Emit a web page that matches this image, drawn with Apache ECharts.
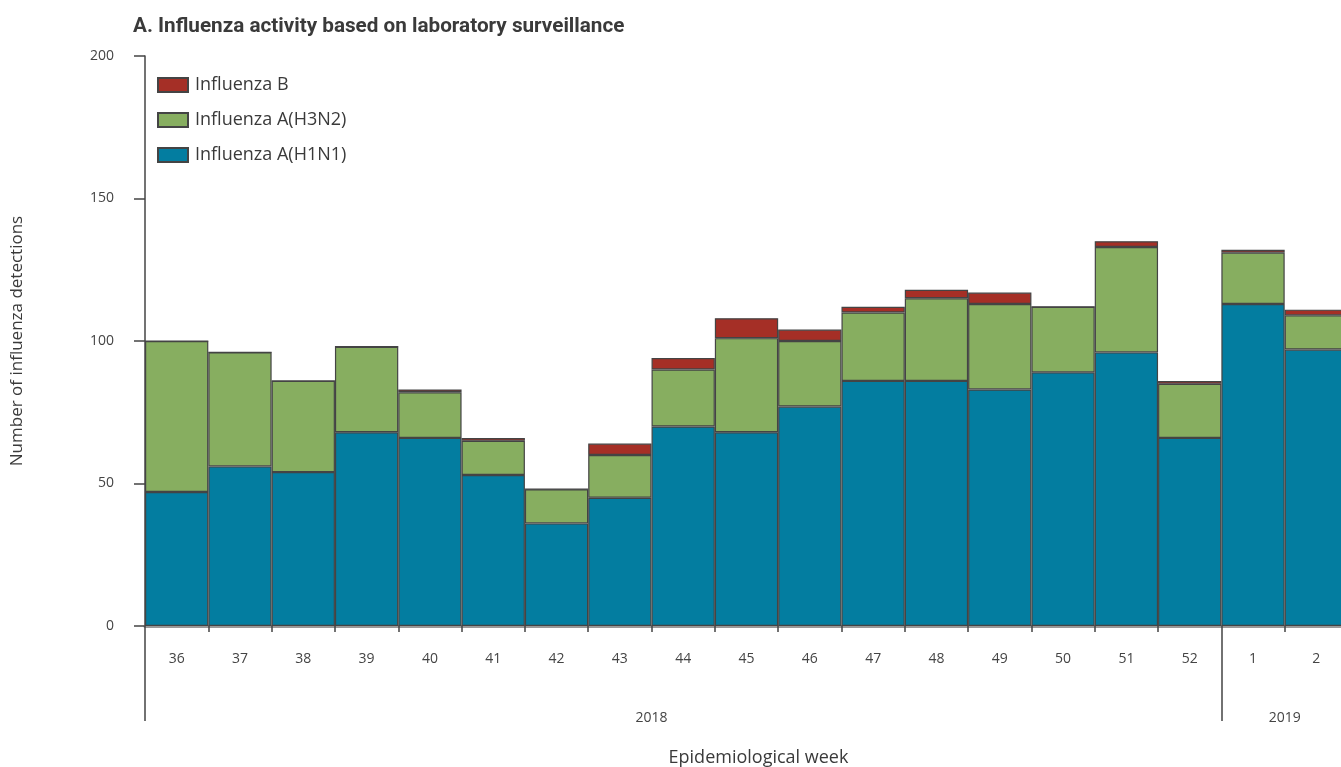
<!DOCTYPE html>
<html>
<head>
<meta charset="utf-8">
<script src="https://cdn.jsdelivr.net/npm/echarts@6/dist/echarts.min.js"></script>
<style>
html,body{margin:0;padding:0;background:#fff;}
#chart{width:1341px;height:767px;}
</style>
</head>
<body>
<div id="chart"></div>
<script>
var weeks = ['36','37','38','39','40','41','42','43','44','45','46','47','48','49','50','51','52','1','2'];
var h1n1 = [47,56,54,68,66,53,36,45,70,68,77,86,86,83,89,96,66,113,97];
var h3n2 = [53,40,32,30,16,12,12,15,20,33,23,24,29,30,23,37,19,18,12];
var fluB = [0,0,0,0,1,1,0,4,4,7,4,2,3,4,0,2,1,1,2];
var yearLabels = ['2018','2019'];
var yearLabelPos = [8,18];
var yearBoundaries = [0,17];
var yTicks = [0,50,100,150,200];

var FONT = "'Open Sans','Noto Sans',sans-serif";
var chart = echarts.init(document.getElementById('chart'), null, {renderer:'canvas'});
var border = {borderColor:'#444', borderWidth:1.2};
chart.setOption({
  animation:false,
  title:{text:'A. Influenza activity based on laboratory surveillance', left:128, top:11,
    textStyle:{fontFamily:"'Roboto',sans-serif", fontWeight:'bold', fontSize:20.7, color:'#3a3a3a'}},
  legend:{orient:'vertical', left:152, top:71, itemWidth:30, itemHeight:14, itemGap:17, icon:'rect',
    data:['Influenza B','Influenza A(H3N2)','Influenza A(H1N1)'],
    textStyle:{fontFamily:FONT, fontSize:18, color:'#3a3a3a', padding:[0,0,0,2]}},
  grid:{left:145, right:-7, top:56, bottom:141, containLabel:false, outerBoundsMode:'none'},
  yAxis:{type:'value', min:0, max:200, interval:50, offset:15,
    name:'Number of influenza detections', nameLocation:'middle', nameGap:104, nameRotate:90,
    nameTextStyle:{fontFamily:FONT, fontSize:17, color:'#3a3a3a'},
    axisLine:{show:true, lineStyle:{color:'#444', width:1.5}},
    axisTick:{show:true, length:11, lineStyle:{color:'#444', width:1.5}},
    axisLabel:{margin:16, fontFamily:FONT, fontSize:14, color:'#444',
      formatter:function(v){return yTicks.indexOf(v)>=0?String(v):'';}},
    splitLine:{show:false}},
  xAxis:[{type:'category', data:weeks, position:'bottom',
    axisLine:{show:true, lineStyle:{color:'#999', width:3}},
    axisTick:{show:true, interval:0, length:6, lineStyle:{color:'#444', width:1.5}},
    axisLabel:{interval:0, margin:26, fontFamily:FONT, fontSize:14, color:'#444'}},
   {type:'value', min:0, max:19, position:'bottom',
    name:'Epidemiological week', nameLocation:'middle', nameGap:123,
    nameTextStyle:{fontFamily:FONT, fontSize:18, color:'#3a3a3a', padding:[0,0,0,24]},
    axisLine:{show:false}, splitLine:{show:false},
    axisTick:{show:true, customValues:yearBoundaries, length:95, lineStyle:{color:'#444', width:1.5}},
    axisLabel:{customValues:yearLabelPos, margin:85, fontFamily:FONT, fontSize:14, color:'#444',
      formatter:function(v){var i=yearLabelPos.indexOf(v); return i>=0?yearLabels[i]:'';}}}],
  series:[
    {name:'Influenza A(H1N1)', type:'bar', stack:'s', data:h1n1, barCategoryGap:'0%', xAxisIndex:0,
      itemStyle:Object.assign({color:'#037DA0'}, border)},
    {name:'Influenza A(H3N2)', type:'bar', stack:'s', data:h3n2, barCategoryGap:'0%', xAxisIndex:0,
      itemStyle:Object.assign({color:'#87AE60'}, border)},
    {name:'Influenza B', type:'bar', stack:'s', data:fluB, barCategoryGap:'0%', xAxisIndex:0,
      itemStyle:Object.assign({color:'#A52F26'}, border)}
  ]
});
</script>
</body>
</html>
